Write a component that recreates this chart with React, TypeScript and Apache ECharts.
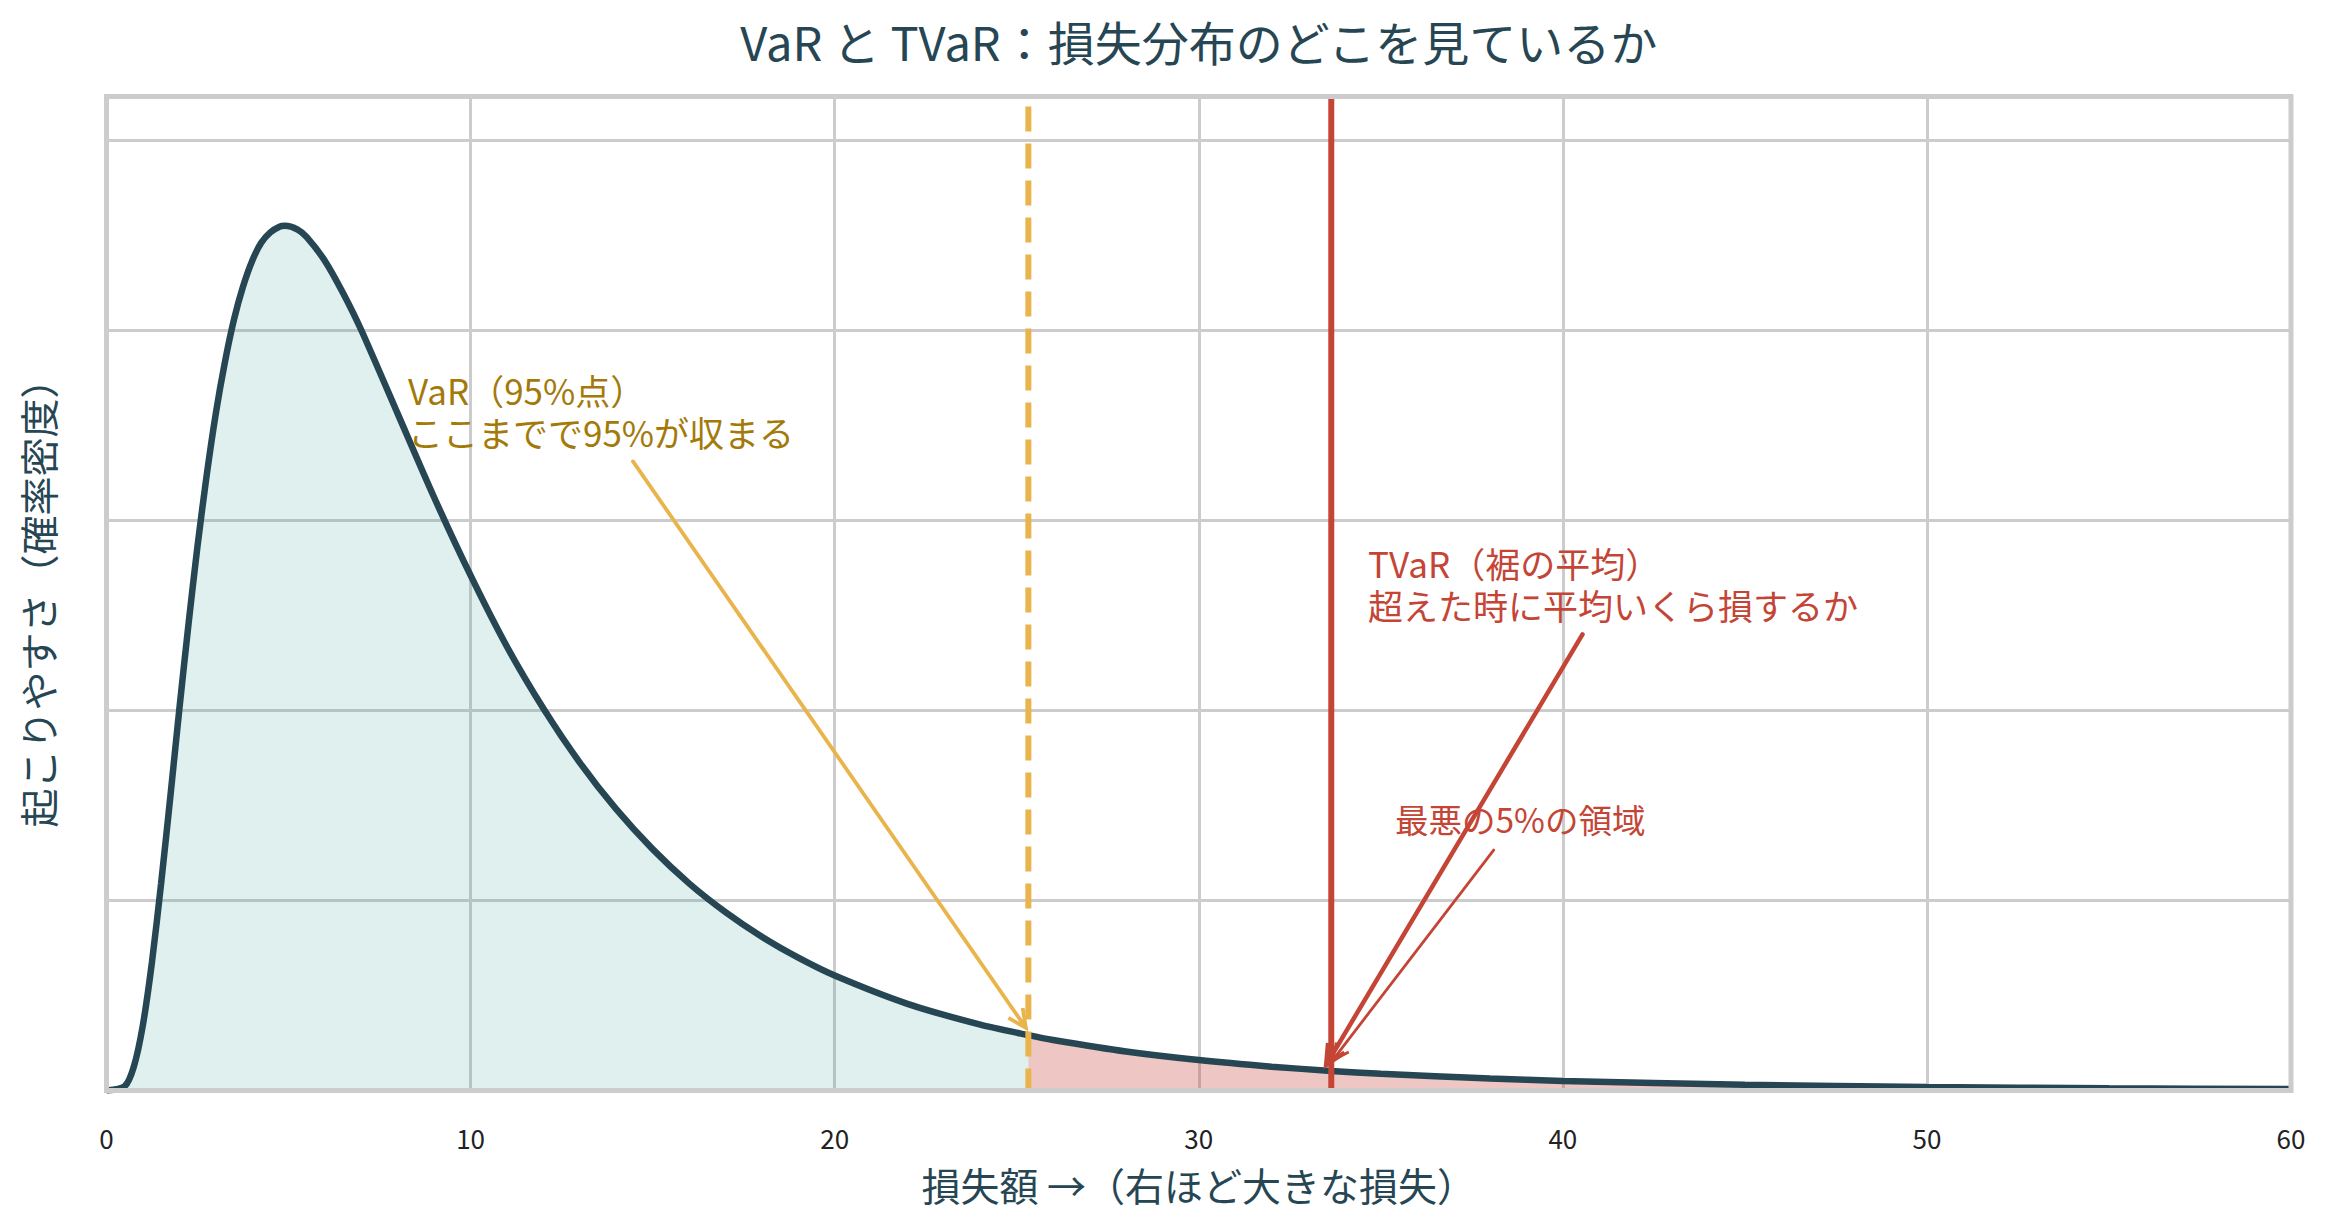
import React, { useEffect, useRef } from "react";
import * as echarts from "echarts";

// ---- data ----
const lossX = [
  0, 0.5, 0.75, 1, 1.25, 1.5, 1.75, 2, 2.25, 2.5, 2.75, 3, 3.25, 3.5, 3.75, 4, 4.25, 4.5,
  4.75, 4.9, 5.25, 5.5, 6, 6.5, 7, 8, 9, 10, 11, 12, 13, 14, 15, 16, 17, 18, 19, 20, 22, 24,
  25.32, 26, 28, 30, 32, 33.64, 35, 38, 40, 45, 50, 55, 60,
];
const density = [
  0, 0.00045, 0.0025, 0.0069, 0.01355, 0.0218, 0.0308, 0.0401, 0.049, 0.0573, 0.0647,
  0.0712, 0.0766, 0.0811, 0.0846, 0.0873, 0.0892, 0.0903, 0.0909, 0.091, 0.0906, 0.0898,
  0.0873, 0.0839, 0.08, 0.0712, 0.0624, 0.0542, 0.0467, 0.0402, 0.0345, 0.0296, 0.0254,
  0.0218, 0.01877, 0.01618, 0.01398, 0.0121, 0.00912, 0.00693, 0.00582, 0.00531, 0.0041,
  0.0032, 0.00251, 0.00206, 0.00176, 0.00126, 0.00101, 0.0006, 0.00037, 0.00023, 0.00015,
];
const VAR_X = 25.32;
const TVAR_X = 33.64;
const X_MIN = 0;
const X_MAX = 60;
const X_STEP = 10;
const Y_MAX = 0.1046;
const Y_STEP = 0.02;

const TITLE = "VaR と TVaR：損失分布のどこを見ているか";
const X_NAME = "損失額 →（右ほど大きな損失）";
const Y_NAME = "起こりやすさ（確率密度）";

const VAR_NOTE = {
  text: "VaR（95%点）\nここまでで95%が収まる",
  textAt: [8.28, 0.0716],
  from: [14.46, 0.0662],
  to: [25.25, 0.0066],
};
const TVAR_NOTE = {
  text: "TVaR（裾の平均）\n超えた時に平均いくら損するか",
  textAt: [34.65, 0.0534],
  from: [40.54, 0.048],
  to: [33.5, 0.0027],
};
const TAIL_NOTE = {
  text: "最悪の5%の領域",
  textAt: [35.39, 0.0286],
  from: [38.1, 0.0253],
  to: [33.68, 0.0032],
};

const FONT = '"Noto Sans CJK JP", "Noto Sans", sans-serif';
const DARK = "#264653";
const GOLD = "#e9b44c";
const GOLD_TEXT = "#a37a0a";
const RED = "#c44536";
const GRID = "#cccccc";

export default function App() {
  const ref = useRef<HTMLDivElement>(null);

  useEffect(() => {
    document.body.style.margin = "0";
    const chart = echarts.init(ref.current!, null, { renderer: "svg" });
    const pts = lossX.map((x, i) => [x, density[i]]);
    const varIdx = lossX.indexOf(VAR_X);
    const leftPts = pts.slice(0, varIdx + 1);
    const rightPts = pts.slice(varIdx);
    const SMOOTH = 0.25;

    chart.setOption({
      animation: false,
      grid: { left: 106.5, top: 96.5, width: 2184.5, height: 994 },
      xAxis: {
        type: "value",
        min: X_MIN,
        max: X_MAX,
        interval: X_STEP,
        axisLine: { show: false },
        axisTick: { show: false },
        axisLabel: { fontSize: 26, color: "#222222", margin: 34, fontFamily: FONT },
        splitLine: { show: true, lineStyle: { color: GRID, width: 3 } },
      },
      yAxis: {
        type: "value",
        min: 0,
        max: Y_MAX,
        interval: Y_STEP,
        axisLine: { show: false },
        axisTick: { show: false },
        axisLabel: { show: false },
        splitLine: { show: true, lineStyle: { color: GRID, width: 3 } },
      },
      series: [
        {
          type: "line",
          data: leftPts,
          smooth: SMOOTH,
          symbol: "none",
          lineStyle: { opacity: 0 },
          areaStyle: { color: "rgba(42,157,143,0.15)", opacity: 1 },
          z: 1,
          silent: true,
        },
        {
          type: "line",
          data: rightPts,
          smooth: SMOOTH,
          symbol: "none",
          lineStyle: { opacity: 0 },
          areaStyle: { color: "rgba(200,69,58,0.3)", opacity: 1 },
          z: 1,
          silent: true,
        },
        {
          type: "line",
          data: pts,
          smooth: SMOOTH,
          symbol: "none",
          lineStyle: { color: DARK, width: 6.5 },
          z: 3,
          silent: true,
        },
        {
          type: "line",
          data: [
            [VAR_X, Y_MAX],
            [VAR_X, 0],
          ],
          symbol: "none",
          lineStyle: { color: GOLD, width: 6, type: [25, 12], dashOffset: 27 },
          z: 4,
          silent: true,
        },
        {
          type: "line",
          data: [
            [TVAR_X, Y_MAX],
            [TVAR_X, 0],
          ],
          symbol: "none",
          lineStyle: { color: RED, width: 6 },
          z: 4,
          silent: true,
        },
      ],
    });

    const px = (p: number[]) => chart.convertToPixel({ gridIndex: 0 }, p) as number[];
    const [gx0, gy0] = px([X_MIN, 0]);
    const [gx1, gy1] = px([X_MAX, Y_MAX]);
    const cx = (gx0 + gx1) / 2;
    const cy = (gy0 + gy1) / 2;

    const arrow = (from: number[], to: number[], color: string, width: number, len: number) => {
      const [x1, y1] = px(from);
      const [x2, y2] = px(to);
      const a = Math.atan2(y2 - y1, x2 - x1);
      const t = 0.45;
      const p1 = [x2 - len * Math.cos(a - t), y2 - len * Math.sin(a - t)];
      const p2 = [x2 - len * Math.cos(a + t), y2 - len * Math.sin(a + t)];
      return [
        {
          type: "line",
          shape: { x1, y1, x2, y2 },
          style: { stroke: color, lineWidth: width, lineCap: "round" },
          z: 50,
        },
        {
          type: "polyline",
          shape: { points: [p1, [x2, y2], p2] },
          style: { stroke: color, lineWidth: width, fill: "none", lineJoin: "miter" },
          z: 50,
        },
      ];
    };

    const note = (n: { text: string; textAt: number[] }, color: string, size: number, lh: number) => {
      const [x, y] = px(n.textAt);
      return {
        type: "text",
        x,
        y,
        z: 60,
        style: {
          text: n.text,
          fill: color,
          fontSize: size,
          fontFamily: FONT,
          align: "left",
          verticalAlign: "middle",
          lineHeight: lh,
        },
      };
    };

    chart.setOption({
      graphic: [
        {
          type: "rect",
          shape: { x: gx0, y: gy1, width: gx1 - gx0, height: gy0 - gy1 },
          style: { fill: "none", stroke: GRID, lineWidth: 5 },
          z: 100,
          silent: true,
        },
        {
          type: "text",
          x: cx,
          y: 40,
          style: {
            text: TITLE,
            fill: DARK,
            fontSize: 47,
            fontFamily: FONT,
            align: "center",
            verticalAlign: "middle",
          },
        },
        {
          type: "text",
          x: cx,
          y: 1184,
          style: {
            text: X_NAME,
            fill: DARK,
            fontSize: 39,
            fontFamily: FONT,
            align: "center",
            verticalAlign: "middle",
          },
        },
        {
          type: "text",
          x: 37,
          y: cy,
          rotation: Math.PI / 2,
          style: {
            text: Y_NAME,
            fill: DARK,
            fontSize: 39,
            fontFamily: FONT,
            align: "center",
            verticalAlign: "middle",
          },
        },
        ...arrow(VAR_NOTE.from, VAR_NOTE.to, GOLD, 3.8, 20),
        ...arrow(TVAR_NOTE.from, TVAR_NOTE.to, RED, 4.5, 22),
        ...arrow(TAIL_NOTE.from, TAIL_NOTE.to, RED, 2.8, 18),
        note(VAR_NOTE, GOLD_TEXT, 35, 42),
        note(TVAR_NOTE, RED, 35, 42),
        note(TAIL_NOTE, RED, 33.5, 40),
      ],
    });

    return () => chart.dispose();
  }, []);

  return <div ref={ref} style={{ width: 2330, height: 1228 }} />;
}
